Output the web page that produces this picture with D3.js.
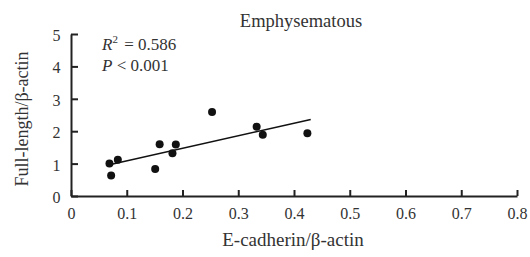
<!DOCTYPE html>
<html>
<head>
<meta charset="utf-8">
<script src="https://cdn.jsdelivr.net/npm/d3@7"></script>
<style>
  body { margin: 0; background: #fff; }
</style>
</head>
<body>
<svg id="chart" width="530" height="257"></svg>
<script>
var xValues = [0.069, 0.072, 0.084, 0.151, 0.159, 0.182, 0.188, 0.253, 0.333, 0.344, 0.424];
var yValues = [1.00, 0.63, 1.12, 0.83, 1.60, 1.32, 1.59, 2.59, 2.14, 1.89, 1.94];
var fitX = [0.075, 0.43];
var fitY = [0.99, 2.36];
var xTicks = [0, 0.1, 0.2, 0.3, 0.4, 0.5, 0.6, 0.7, 0.8];
var yTicks = [0, 1, 2, 3, 4, 5];

var serif = "Liberation Serif";
var ink = "#333";
var svg = d3.select("#chart");

var x = d3.scaleLinear().domain([0, 0.8]).range([71, 517]);
var y = d3.scaleLinear().domain([0, 5]).range([196, 34]);

// axes, ticks pointing inward
var xAxis = d3.axisBottom(x).tickValues(xTicks).tickSizeInner(-6).tickSizeOuter(0)
  .tickPadding(12).tickFormat(function (d) { return d === 0 ? "0" : d3.format(".1f")(d); });
var yAxis = d3.axisLeft(y).tickValues(yTicks).tickSizeInner(-7).tickSizeOuter(0)
  .tickPadding(10.5).tickFormat(d3.format("d"));

var gx = svg.append("g").attr("transform", "translate(0," + y(0) + ")").call(xAxis);
var gy = svg.append("g").attr("transform", "translate(" + x(0) + ",0)").call(yAxis);

[gx, gy].forEach(function (g) {
  g.select(".domain").attr("stroke", "#222").attr("stroke-width", 2);
  g.selectAll(".tick line").attr("stroke", "#222").attr("stroke-width", 2);
  g.selectAll(".tick text")
    .style("font-family", serif)
    .style("font-size", "16px")
    .style("fill", ink);
});
gy.selectAll(".tick text").attr("dy", "0.4em");

// regression line
svg.append("line")
  .attr("x1", x(fitX[0])).attr("y1", y(fitY[0]))
  .attr("x2", x(fitX[1])).attr("y2", y(fitY[1]))
  .attr("stroke", "#111").attr("stroke-width", 1.5);

svg.selectAll(".dot")
  .data(xValues)
  .enter()
  .append("circle")
  .attr("class", "dot")
  .attr("cx", function (d) { return x(d); })
  .attr("cy", function (d, i) { return y(yValues[i]); })
  .attr("r", 4)
  .attr("fill", "#111");

// title
svg.append("text")
  .attr("x", 301).attr("y", 27)
  .attr("text-anchor", "middle")
  .attr("font-family", serif).attr("font-size", 18.5).attr("fill", ink)
  .text("Emphysematous");

// stats
var r2 = svg.append("text").attr("x", 102).attr("y", 50)
  .attr("font-family", serif).attr("font-size", 17).attr("fill", ink);
r2.append("tspan").attr("font-style", "italic").text("R");
r2.append("tspan").attr("font-size", 11).attr("dy", -7).text("2");
r2.append("tspan").attr("dy", 7).attr("dx", 2).text(" = 0.586");

var p = svg.append("text").attr("x", 102).attr("y", 71)
  .attr("font-family", serif).attr("font-size", 17).attr("fill", ink);
p.append("tspan").attr("font-style", "italic").text("P");
p.append("tspan").text(" < 0.001");

// axis labels
svg.append("text")
  .attr("x", 293).attr("y", 246)
  .attr("text-anchor", "middle")
  .attr("font-family", serif).attr("font-size", 19).attr("fill", ink)
  .text("E-cadherin/β-actin");

svg.append("text")
  .attr("transform", "translate(28,119) rotate(-90)")
  .attr("text-anchor", "middle")
  .attr("font-family", serif).attr("font-size", 18).attr("fill", ink)
  .text("Full-length/β-actin");
</script>
</body>
</html>
